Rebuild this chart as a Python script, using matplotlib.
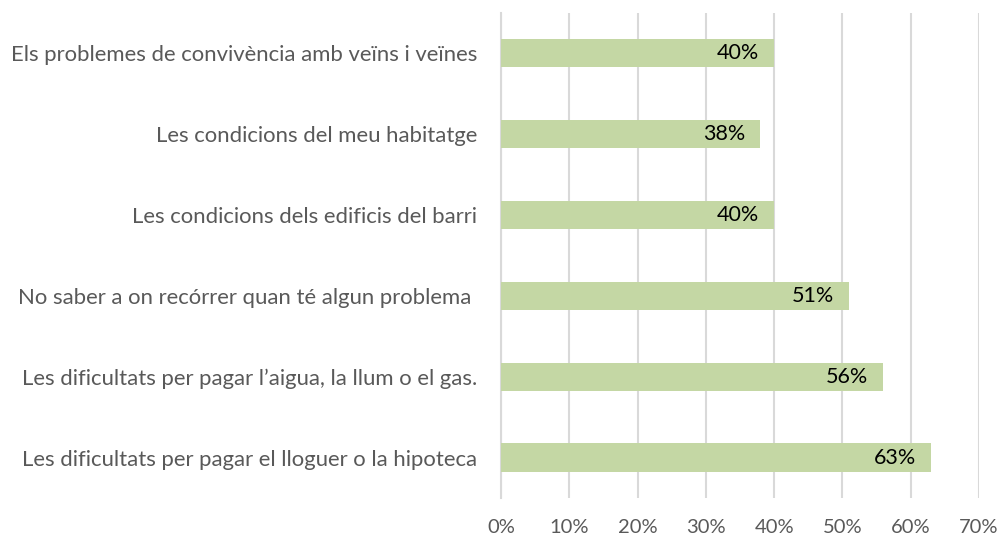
import matplotlib.pyplot as plt
from matplotlib.ticker import PercentFormatter

# categories, top to bottom as shown
categories = [
    "Els problemes de convivència amb veïns i veïnes",
    "Les condicions del meu habitatge",
    "Les condicions dels edificis del barri",
    "No saber a on recórrer quan té algun problema ",
    "Les dificultats per pagar l’aigua, la llum o el gas.",
    "Les dificultats per pagar el lloguer o la hipoteca",
]
values = [40, 38, 40, 51, 56, 63]
xticks = [0, 10, 20, 30, 40, 50, 60, 70]

plt.rcParams['font.family'] = ['Lato', 'DejaVu Sans']

fig = plt.figure(figsize=(10.02, 5.37), dpi=100)
ax = fig.add_axes([0.5, 0.0726, 0.477, 0.9034])

ypos = list(range(len(categories)))
ax.barh(ypos, values, height=0.35, color='#C4D7A4', zorder=3)
for y, v in zip(ypos, values):
    ax.text(v - 2.2, y, f"{v}%", ha='right', va='center', fontsize=15.5,
            color='black', zorder=4)

ax.set_ylim(len(categories) - 0.5, -0.5)
ax.set_yticks(ypos)
ax.set_yticklabels(categories, fontsize=15.9, color='#595959')
ax.set_xlim(0, 70)
ax.set_xticks(xticks)
ax.xaxis.set_major_formatter(PercentFormatter(decimals=0))
ax.tick_params(axis='x', labelsize=14.5, labelcolor='#595959', length=0, pad=15)
ax.tick_params(axis='y', length=0, pad=17)
ax.grid(axis='x', color='#D9D9D9', linewidth=1.5, zorder=0)
for s in ['top', 'right', 'bottom']:
    ax.spines[s].set_visible(False)
ax.spines['left'].set_color('#D9D9D9')
ax.spines['left'].set_linewidth(1.5)

fig.savefig('out.png', dpi=100)
